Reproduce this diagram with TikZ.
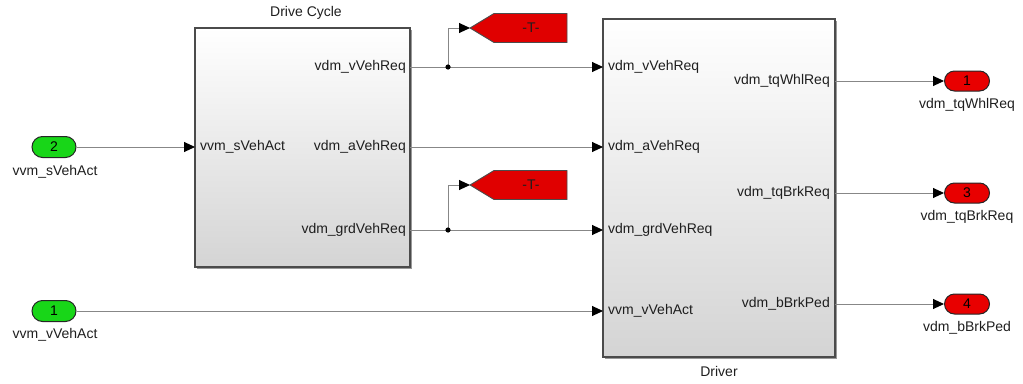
\documentclass[tikz,border=0pt]{standalone}
\usepackage{fontspec}
\setmainfont{Liberation Sans}
\usetikzlibrary{arrows.meta,shadows}
\definecolor{portgreen}{RGB}{24,214,24}
\definecolor{portred}{RGB}{232,0,0}
\definecolor{gotored}{RGB}{224,0,0}
\definecolor{wirecol}{RGB}{135,135,135}
\definecolor{blkedge}{RGB}{75,75,75}
\definecolor{txt}{RGB}{30,30,30}
\begin{document}
\begin{tikzpicture}[x=1pt,y=-1pt,
  font=\fontsize{14}{16}\selectfont,
  lbl/.style={inner sep=0pt, text=txt},
  blk/.style={draw=blkedge, line width=1.3pt, top color=white, bottom color={rgb,255:red,212;green,212;blue,212},
    drop shadow={shadow xshift=2pt, shadow yshift=-2pt, fill=black!40, opacity=1}, inner sep=0pt},
  inport/.style={draw=black!85, line width=1pt, fill=portgreen, rounded corners=10.5pt,
    minimum width=44pt, minimum height=21pt, inner sep=0pt},
  outport/.style={draw=black!85, line width=1pt, fill=portred, rounded corners=10pt,
    minimum width=45pt, minimum height=20pt, inner sep=0pt},
  gotobox/.style={draw=black!70, line width=0.9pt, fill=gotored},
  wire/.style={draw=wirecol, line width=0.9pt},
  arr/.style={wire, -{Triangle[length=11pt,width=10pt,color=black]}},
  junction/.style={fill=black}
]
\useasboundingbox (0,0) rectangle (1023,383);

% ---------- Drive Cycle block ----------
\node[blk, minimum width=215pt, minimum height=239pt] (dc) at (302.5,147.5) {};
\node[lbl] (dctitle) at (306,13) {Drive Cycle};
\node[lbl, anchor=west] (dcinl) at (200,147) {vvm\_sVehAct};
\node[lbl, anchor=east] (dco1l) at (406,67) {vdm\_vVehReq};
\node[lbl, anchor=east] (dco2l) at (406,147) {vdm\_aVehReq};
\node[lbl, anchor=east] (dco3l) at (406,230) {vdm\_grdVehReq};
\coordinate (dcI) at (195,147);
\coordinate (dcO1) at (410,67);
\coordinate (dcO2) at (410,147);
\coordinate (dcO3) at (410,230);

% ---------- Driver block ----------
\node[blk, minimum width=232pt, minimum height=338pt] (drv) at (719,188) {};
\node[lbl] (drvtitle) at (719,371) {Driver};
\node[lbl, anchor=west] (dri1l) at (608,67) {vdm\_vVehReq};
\node[lbl, anchor=west] (dri2l) at (608,147) {vdm\_aVehReq};
\node[lbl, anchor=west] (dri3l) at (608,230) {vdm\_grdVehReq};
\node[lbl, anchor=west] (dri4l) at (608,311) {vvm\_vVehAct};
\node[lbl, anchor=east] (dro1l) at (830,81) {vdm\_tqWhlReq};
\node[lbl, anchor=east] (dro2l) at (830,193) {vdm\_tqBrkReq};
\node[lbl, anchor=east] (dro3l) at (830,304) {vdm\_bBrkPed};
\coordinate (drvI1) at (603,67);
\coordinate (drvI2) at (603,147);
\coordinate (drvI3) at (603,230);
\coordinate (drvI4) at (603,311);
\coordinate (drvO1) at (835,81);
\coordinate (drvO2) at (835,193);
\coordinate (drvO3) at (835,304);

% ---------- Inports ----------
\node[inport] (in2) at (54,147) {2};
\node[lbl] (in2l) at (55,172) {vvm\_sVehAct};
\node[inport] (in1) at (54,311) {1};
\node[lbl] (in1l) at (55,335) {vvm\_vVehAct};

% ---------- Outports ----------
\node[outport] (out1) at (967,81) {1};
\node[lbl] (out1l) at (967,105) {vdm\_tqWhlReq};
\node[outport] (out3) at (967,193) {3};
\node[lbl] (out3l) at (967,217) {vdm\_tqBrkReq};
\node[outport] (out4) at (967,304) {4};
\node[lbl] (out4l) at (967,328) {vdm\_bBrkPed};

% ---------- Goto tags ----------
\draw[gotobox] (470,28) -- (494,13.5) -- (567,13.5) -- (567,42.5) -- (494,42.5) -- cycle;
\node[lbl] (g1) at (531,28) {-T-};
\coordinate (g1tip) at (470,28);
\draw[gotobox] (470,185) -- (494,170.5) -- (567,170.5) -- (567,199.5) -- (494,199.5) -- cycle;
\node[lbl] (g2) at (531,185) {-T-};
\coordinate (g2tip) at (470,185);

% ---------- Branch points ----------
\coordinate (br1) at (448,67);
\coordinate (br2) at (448,230);

% ---------- Wires ----------
\draw[arr] (in2) -- (dcI);
\draw[wire] (dcO1) -- (br1);
\draw[arr] (br1) -- (drvI1);
\draw[arr] (br1) |- (g1tip);
\draw[arr] (dcO2) -- (drvI2);
\draw[wire] (dcO3) -- (br2);
\draw[arr] (br2) -- (drvI3);
\draw[arr] (br2) |- (g2tip);
\draw[arr] (in1) -- (drvI4);
\draw[arr] (drvO1) -- (out1);
\draw[arr] (drvO2) -- (out3);
\draw[arr] (drvO3) -- (out4);
\fill[junction] (br1) circle (2.6pt);
\fill[junction] (br2) circle (2.6pt);
\end{tikzpicture}
\end{document}
